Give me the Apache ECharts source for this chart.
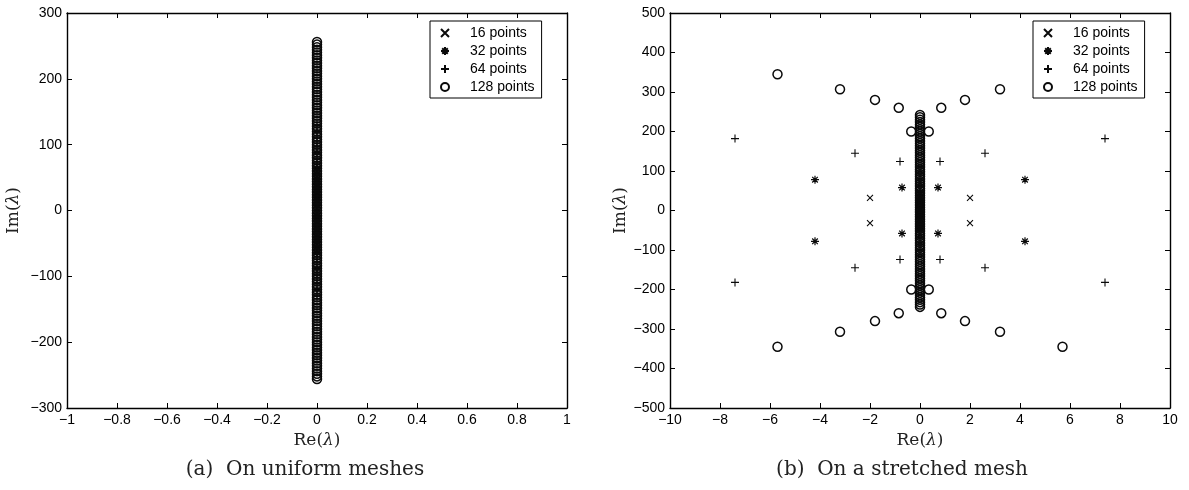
<!DOCTYPE html>
<html><head><meta charset="utf-8">
<script src="https://cdn.jsdelivr.net/npm/echarts@6/dist/echarts.min.js"></script>
<style>html,body{margin:0;padding:0;background:#fff}#c{width:1189px;height:490px}</style>
</head><body><div id="c"></div>
<script>
// ---- data ----
const seriesNames = ['16 points', '32 points', '64 points', '128 points'];
const xTicksLeft = [-1, -0.8, -0.6, -0.4, -0.2, 0, 0.2, 0.4, 0.6, 0.8, 1];
const yTicksLeft = [-300, -200, -100, 0, 100, 200, 300];
const xTicksRight = [-10, -8, -6, -4, -2, 0, 2, 4, 6, 8, 10];
const yTicksRight = [-500, -400, -300, -200, -100, 0, 100, 200, 300, 400, 500];

// (a) uniform meshes: all eigenvalues on the imaginary axis (Re = 0), Im values
const uni16Im = [32, 28, 24, 20, 16, 12, 8, 4, -4, -8, -12, -16, -20, -24, -28, -32];
const uni32Im = [64, 60, 56, 52, 48, 44, 40, 36, 32, 28, 24, 20, 16, 12, 8, 4,
  -4, -8, -12, -16, -20, -24, -28, -32, -36, -40, -44, -48, -52, -56, -60, -64];
const uni64Im = [128, 120, 112, 104, 96, 88, 80, 72, 64, 56, 48, 40, 32, 24, 16, 8, 0,
  -8, -16, -24, -32, -40, -48, -56, -64, -72, -80, -88, -96, -104, -112, -120, -128];
const uni128Im = [256, 252, 248, 244, 240, 236, 232, 228, 224, 220, 216, 212, 208, 204, 200, 196,
  192, 188, 184, 180, 176, 172, 168, 164, 160, 156, 152, 148, 144, 140, 136, 132,
  128, 124, 120, 116, 112, 108, 104, 100, 96, 92, 88, 84, 80, 76, 72, 68,
  64, 60, 56, 52, 48, 44, 40, 36, 32, 28, 24, 20, 16, 12, 8, 4, 0,
  -4, -8, -12, -16, -20, -24, -28, -32, -36, -40, -44, -48, -52, -56, -60, -64,
  -68, -72, -76, -80, -84, -88, -92, -96, -100, -104, -108, -112, -116, -120, -124, -128,
  -132, -136, -140, -144, -148, -152, -156, -160, -164, -168, -172, -176, -180, -184, -188, -192,
  -196, -200, -204, -208, -212, -216, -220, -224, -228, -232, -236, -240, -244, -248, -252, -256];

// (b) stretched mesh: off-axis eigenvalues [Re, Im] and on-axis Im values (Re = 0)
const str16Off = [[-2.0, 32], [-2.0, -32], [2.0, 32], [2.0, -32]];
const str16Axis = [20, 12, 6, 2, -2, -6, -12, -20];
const str32Off = [[-4.2, 78], [-4.2, -78], [4.2, 78], [4.2, -78],
  [-0.72, 58], [-0.72, -58], [0.72, 58], [0.72, -58]];
const str32Axis = [46, 38, 30, 22, 14, 6, -6, -14, -22, -30, -38, -46];
const str64Off = [[-7.4, 182], [-7.4, -182], [7.4, 182], [7.4, -182],
  [-2.6, 145], [-2.6, -145], [2.6, 145], [2.6, -145],
  [-0.8, 124], [-0.8, -124], [0.8, 124], [0.8, -124]];
const str64Axis = [110, 100, 90, 80, 70, 60, 50, 40, 30, 20, 10, 0,
  -10, -20, -30, -40, -50, -60, -70, -80, -90, -100, -110];
const str128Off = [[-5.7, 345], [-5.7, -345], [5.7, 345], [5.7, -345],
  [-3.2, 307], [-3.2, -307], [3.2, 307], [3.2, -307],
  [-1.8, 280], [-1.8, -280], [1.8, 280], [1.8, -280],
  [-0.85, 260], [-0.85, -260], [0.85, 260], [0.85, -260],
  [-0.35, 200], [-0.35, -200], [0.35, 200], [0.35, -200]];
const str128Axis = [242, 236, 230, 224, 218, 212, 206, 200, 194, 188, 182, 176, 170, 164, 158, 152,
  146, 140, 134, 128, 122, 116, 110, 104, 98, 92, 86, 80, 74, 68, 62, 56,
  50, 44, 38, 32, 26, 20, 14, 8, 2, -4, -10, -16, -22, -28, -34, -40,
  -46, -52, -58, -64, -70, -76, -82, -88, -94, -100, -106, -112, -118, -124, -130, -136,
  -142, -148, -154, -160, -166, -172, -178, -184, -190, -196, -202, -208, -214, -220, -226, -232,
  -238, -244];

// ---- styles ----
const INK = '#0a0a0a';
const symbols = {
  '16 points': { symbol: 'path://M0,0L10,10M10,0L0,10', size: 6, bw: 1.1 },
  '32 points': { symbol: 'path://M5,0L5,10M0,5L10,5M1.5,1.5L8.5,8.5M8.5,1.5L1.5,8.5', size: 8, bw: 1.2 },
  '64 points': { symbol: 'path://M5,0L5,10M0,5L10,5', size: 8, bw: 1.1 },
  '128 points': { symbol: 'circle', size: 9, bw: 1.5 }
};
const tickFmt = v => String(+v.toFixed(6)).replace('-', '\u2212');
const stepOf = t => Math.round((t[1] - t[0]) * 1e6) / 1e6;

function axisPair(type, grid, ticks, pos, withLabel, name, nameGap) {
  const base = {
    type: 'value', gridIndex: grid, position: pos,
    min: ticks[0], max: ticks[ticks.length - 1], interval: stepOf(ticks),
    axisLine: { show: true, onZero: false, lineStyle: { color: '#000', width: 1.4 } },
    axisTick: { show: true, inside: true, length: 5, lineStyle: { color: '#000', width: 1 } },
    splitLine: { show: false },
    axisLabel: {
      show: withLabel, color: '#000', fontFamily: 'Liberation Sans', fontSize: 14,
      margin: 5, formatter: tickFmt, showMinLabel: true, showMaxLabel: true
    }
  };
  if (name) {
    Object.assign(base, {
      name: name, nameLocation: 'middle', nameGap: nameGap,
      nameRotate: type === 'y' ? 90 : 0,
      nameTextStyle: {
        color: '#222', fontFamily: 'DejaVu Serif', fontSize: 17,
        rich: { i: { fontFamily: 'DejaVu Serif', fontStyle: 'italic', fontSize: 17, color: '#222' } }
      }
    });
  }
  return base;
}

const reName = 'Re({i|λ})';
const imName = 'Im({i|λ})';

const xAxes = [
  axisPair('x', 0, xTicksLeft, 'bottom', true, reName, 24),
  axisPair('x', 0, xTicksLeft, 'top', false),
  axisPair('x', 1, xTicksRight, 'bottom', true, reName, 24),
  axisPair('x', 1, xTicksRight, 'top', false)
];
const yAxes = [
  axisPair('y', 0, yTicksLeft, 'left', true, imName, 45),
  axisPair('y', 0, yTicksLeft, 'right', false),
  axisPair('y', 1, yTicksRight, 'left', true, imName, 31),
  axisPair('y', 1, yTicksRight, 'right', false)
];

function mkSeries(name, axisIdx, data) {
  const s = symbols[name];
  return {
    type: 'scatter', name: name, xAxisIndex: axisIdx, yAxisIndex: axisIdx,
    symbol: s.symbol, symbolSize: s.size,
    itemStyle: { color: 'rgba(0,0,0,0)', borderColor: INK, borderWidth: s.bw, opacity: 1 },
    emphasis: { disabled: true },
    data: data
  };
}
const onAxis = arr => arr.map(v => [0, v]);

const series = [
  mkSeries('16 points', 0, onAxis(uni16Im)),
  mkSeries('32 points', 0, onAxis(uni32Im)),
  mkSeries('64 points', 0, onAxis(uni64Im)),
  mkSeries('128 points', 0, onAxis(uni128Im)),
  mkSeries('16 points', 2, str16Off.concat(onAxis(str16Axis))),
  mkSeries('32 points', 2, str32Off.concat(onAxis(str32Axis))),
  mkSeries('64 points', 2, str64Off.concat(onAxis(str64Axis))),
  mkSeries('128 points', 2, str128Off.concat(onAxis(str128Axis)))
];

function mkLegend(left) {
  return {
    show: true, orient: 'vertical', left: left, top: 21,
    data: seriesNames, selectedMode: false,
    backgroundColor: '#fff', borderColor: '#000', borderWidth: 1,
    padding: [5, 7, 4, 10], itemGap: 4, itemWidth: 40, itemHeight: 8,
    textStyle: { color: '#000', fontFamily: 'Liberation Sans', fontSize: 14 },
    z: 10
  };
}

const option = {
  animation: false,
  backgroundColor: '#fff',
  grid: [
    { left: 67, top: 13, width: 500, height: 395 },
    { left: 670, top: 13, width: 500, height: 395 }
  ],
  xAxis: xAxes,
  yAxis: yAxes,
  legend: [mkLegend(430), mkLegend(1033)],
  series: series,
  graphic: [
    { type: 'text', x: 305, y: 470, style: { text: '(a)  On uniform meshes', textAlign: 'center', textVerticalAlign: 'middle', fontFamily: 'DejaVu Serif', fontSize: 20, fill: '#222' } },
    { type: 'text', x: 902, y: 470, style: { text: '(b)  On a stretched mesh', textAlign: 'center', textVerticalAlign: 'middle', fontFamily: 'DejaVu Serif', fontSize: 20, fill: '#222' } }
  ]
};
const chart = echarts.init(document.getElementById('c'), null, { renderer: 'canvas' });
chart.setOption(option);
</script>
</body></html>
